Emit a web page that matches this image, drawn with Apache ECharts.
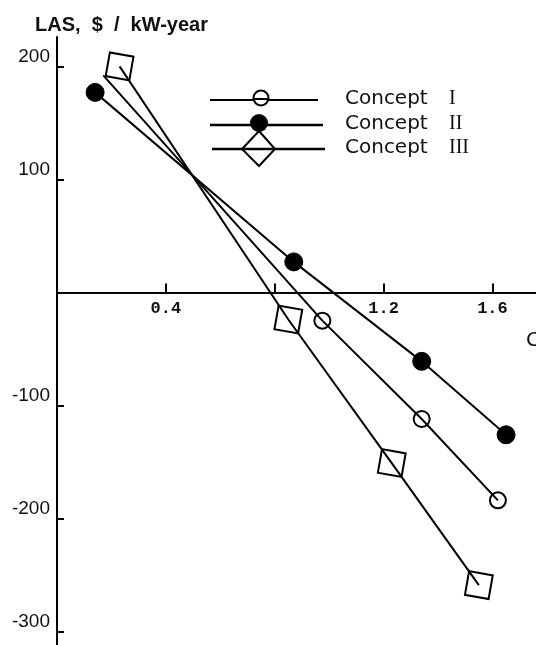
<!DOCTYPE html>
<html>
<head>
<meta charset="utf-8">
<script src="https://cdn.jsdelivr.net/npm/echarts@6/dist/echarts.min.js"></script>
<style>
  html, body { margin: 0; padding: 0; background: #fff; }
  #chart { width: 536px; height: 645px; }
</style>
</head>
<body>
<div id="chart"></div>
<script>
// Levelized annual savings (LAS) for three design concepts
const conceptI_x   = [0.17, 0.975, 1.34, 1.62];
const conceptI_y   = [192, -25, -112, -184];
const conceptII_x  = [0.14, 0.87, 1.34, 1.65];
const conceptII_y  = [177, 27, -61, -126];
const conceptIII_x = [0.23, 0.85, 1.23, 1.55];
const conceptIII_y = [200, -24, -151, -259];

const seriesNames = ['Concept I', 'Concept II', 'Concept III'];

const xTicks = [0.4, 0.8, 1.2, 1.6];
const xTickLabels = [0.4, 1.2, 1.6];
const yTicks = [200, 100, -100, -200, -300];
const yTickLabels = [200, 100, -100, -200, -300];

const X_MIN = 0, X_MAX = 1.76;
const Y_MIN = -312, Y_MAX = 226;
const GRID_TOP = 37, CHART_H = 645;

const pairs = (xs, ys) => xs.map((x, i) => [x, ys[i]]);

const lineStyle = { color: '#000', width: 2 };

// Concept I has no marker drawn at its first point
const conceptIData = pairs(conceptI_x, conceptI_y).map((p, i) =>
  i === 0 ? { value: p, symbolSize: 0 } : p);

// the x axis runs along y = 0, so lift it from the grid bottom to that level
const plotH = CHART_H - GRID_TOP;
const zeroFromBottom = plotH * (0 - Y_MIN) / (Y_MAX - Y_MIN);

const chart = echarts.init(document.getElementById('chart'));

// legend text: sans word, serif roman numeral
const legendText = (name) => {
  const [word, num] = name.split(' ');
  return '{w|' + word + '}{n|' + num + '}';
};
const legendRich = {
  w: { fontFamily: 'DejaVu Sans', fontSize: 20, fill: '#111', width: 104 },
  n: { fontFamily: 'Liberation Serif', fontSize: 20, fill: '#111' }
};

const option = {
  backgroundColor: '#fff',
  animation: false,
  title: {
    text: 'LAS,  $  /  kW-year',
    left: 30, top: 10,
    textStyle: { fontFamily: 'Liberation Sans', fontSize: 20, fontWeight: 'bold', color: '#111' }
  },
  grid: { left: 57, right: 0, top: GRID_TOP, bottom: 0, outerBoundsMode: 'none', containLabel: false },
  xAxis: {
    type: 'value', min: X_MIN, max: X_MAX,
    position: 'bottom', offset: -zeroFromBottom,
    axisLine: { onZero: false, lineStyle: { color: '#000', width: 2 } },
    axisTick: { inside: true, length: 9, lineStyle: { color: '#000', width: 2 }, customValues: xTicks },
    axisLabel: {
      customValues: xTickLabels, margin: 8,
      fontFamily: 'Liberation Mono', fontWeight: 'bold', fontSize: 17, color: '#111',
      formatter: v => v.toFixed(1)
    },
    splitLine: { show: false }
  },
  yAxis: {
    type: 'value', min: Y_MIN, max: Y_MAX,
    axisLine: { onZero: false, lineStyle: { color: '#000', width: 2 } },
    axisTick: { inside: true, length: 7, lineStyle: { color: '#000', width: 2 }, customValues: yTicks },
    axisLabel: {
      customValues: yTickLabels, margin: 7,
      fontFamily: 'Liberation Sans', fontSize: 19, color: '#111',
      verticalAlign: 'bottom', padding: [0, 0, 0, 0]
    },
    splitLine: { show: false }
  },
  series: [
    {
      name: seriesNames[0], type: 'line', data: conceptIData,
      symbol: 'circle', symbolSize: 16,
      lineStyle, itemStyle: { color: 'rgba(0,0,0,0)', borderColor: '#000', borderWidth: 2 }
    },
    {
      name: seriesNames[1], type: 'line', data: pairs(conceptII_x, conceptII_y),
      symbol: 'circle', symbolSize: 18,
      lineStyle, itemStyle: { color: '#000', borderColor: '#000', borderWidth: 1 }
    },
    {
      name: seriesNames[2], type: 'line', data: pairs(conceptIII_x, conceptIII_y),
      symbol: 'rect', symbolSize: 24, symbolRotate: -10,
      lineStyle, itemStyle: { color: 'rgba(0,0,0,0)', borderColor: '#000', borderWidth: 2 }
    }
  ],
  graphic: [
    // legend rows
    { type: 'line', shape: { x1: 210, y1: 100, x2: 318, y2: 100 }, style: { stroke: '#000', lineWidth: 2 } },
    { type: 'circle', shape: { cx: 261, cy: 98, r: 7.5 }, style: { fill: '#fff', stroke: '#000', lineWidth: 2 } },
    { type: 'line', shape: { x1: 253, y1: 99, x2: 269, y2: 99 }, style: { stroke: '#000', lineWidth: 2 } },
    { type: 'text', left: 345, top: 89, style: { text: legendText(seriesNames[0]), rich: legendRich } },

    { type: 'line', shape: { x1: 210, y1: 125, x2: 323, y2: 125 }, style: { stroke: '#000', lineWidth: 2.5 } },
    { type: 'circle', shape: { cx: 259, cy: 123, r: 9 }, style: { fill: '#000' } },
    { type: 'text', left: 345, top: 114, style: { text: legendText(seriesNames[1]), rich: legendRich } },

    { type: 'line', shape: { x1: 212, y1: 149, x2: 325, y2: 149 }, style: { stroke: '#000', lineWidth: 2.5 } },
    { type: 'polygon', shape: { points: [[259, 131], [275, 149], [259, 166], [242, 149]] }, style: { fill: 'rgba(0,0,0,0)', stroke: '#000', lineWidth: 2 } },
    { type: 'text', left: 345, top: 138, style: { text: legendText(seriesNames[2]), rich: legendRich } },

    // x-axis title, running off the right edge
    { type: 'text', left: 526, top: 331, style: { text: 'C', font: '20px "DejaVu Sans"', fill: '#111' } }
  ]
};

chart.setOption(option);
</script>
</body>
</html>
